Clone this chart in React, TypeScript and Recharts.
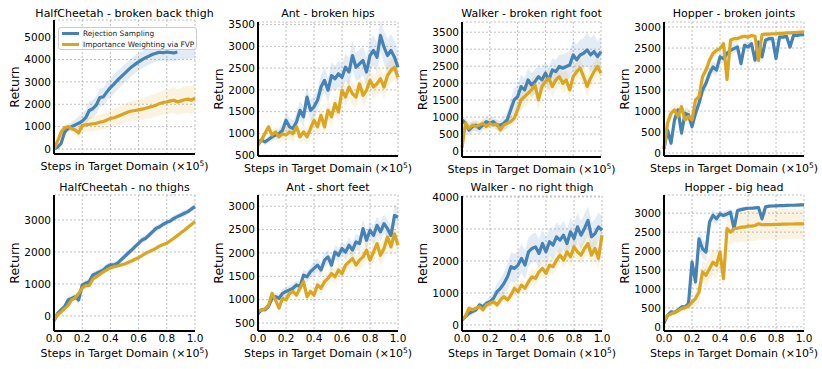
import React from 'react';
import { ComposedChart, Area, Line, XAxis, YAxis, CartesianGrid, Label } from 'recharts';

const BLUE = '#4682b4';
const GOLD = '#daa520';
const FONT = '"DejaVu Sans", Verdana, sans-serif';

// shared x grid (x 1e5 steps)
const steps = [
  0, 0.025, 0.05, 0.075, 0.1, 0.125, 0.15, 0.175, 0.2, 0.225, 0.25, 0.275, 0.3, 0.325,
  0.35, 0.375, 0.4, 0.425, 0.45, 0.475, 0.5, 0.525, 0.55, 0.575, 0.6, 0.625, 0.65,
  0.675, 0.7, 0.725, 0.75, 0.775, 0.8, 0.825, 0.85, 0.875, 0.9, 0.925, 0.95, 0.975, 1,
];
const xTicks = [0, 0.2, 0.4, 0.6, 0.8, 1];

// HalfCheetah - broken back thigh
const cheetahBackRs = [0, 80, 250, 750, 920, 1000, 1080, 1150, 1250, 1400, 1720, 1800, 1960, 2300, 2330, 2550, 2745, 2900, 3070, 3220, 3370, 3520, 3665, 3780, 3890, 3990, 4080, 4150, 4230, 4280, 4320, 4300, 4330, 4310, 4290, 4330, 4400, 4420, 4450, 4450, 4480];
const cheetahBackRsStd = [30, 50, 100, 150, 150, 200, 250, 300, 350, 350, 400, 400, 400, 400, 420, 420, 420, 420, 420, 420, 400, 400, 400, 400, 400, 380, 380, 380, 380, 380, 380, 380, 380, 380, 380, 380, 400, 400, 420, 420, 420];
const cheetahBackFvp = [0, 350, 750, 950, 1000, 920, 850, 720, 1050, 1080, 1100, 1130, 1150, 1200, 1230, 1300, 1370, 1400, 1450, 1520, 1590, 1650, 1700, 1720, 1750, 1780, 1820, 1870, 1910, 1960, 2030, 2080, 2100, 2150, 2180, 2100, 2150, 2200, 2230, 2180, 2280];
const cheetahBackFvpStd = [20, 100, 150, 150, 150, 150, 200, 250, 300, 300, 320, 320, 340, 340, 360, 360, 380, 400, 400, 420, 420, 440, 450, 460, 470, 480, 490, 500, 510, 520, 530, 540, 550, 560, 570, 580, 590, 600, 610, 620, 630];
const cheetahBackTicks = [0, 1000, 2000, 3000, 4000, 5000];

// Ant - broken hips
const antHipsRs = [805, 845, 805, 860, 920, 960, 995, 1070, 1300, 1150, 1110, 1265, 1530, 1380, 1835, 1530, 1610, 1760, 2065, 2220, 1990, 2330, 2255, 2370, 2290, 2520, 2410, 2790, 2520, 2600, 2675, 2410, 2790, 2905, 2750, 3250, 2980, 2790, 2905, 2750, 2520];
const antHipsRsStd = [50, 60, 70, 80, 100, 100, 120, 150, 200, 200, 200, 200, 220, 220, 250, 250, 250, 250, 280, 280, 280, 300, 300, 300, 300, 320, 320, 330, 330, 330, 340, 340, 350, 350, 350, 380, 380, 380, 380, 380, 380];
const antHipsFvp = [730, 845, 995, 1150, 960, 1035, 920, 995, 960, 1035, 995, 1150, 920, 1035, 920, 1110, 1300, 1150, 1415, 1150, 1530, 1380, 1685, 1490, 1990, 1835, 2065, 1910, 1835, 2140, 1875, 1990, 2220, 2065, 2140, 2255, 2065, 2330, 2445, 2520, 2290];
const antHipsFvpStd = [50, 80, 100, 120, 120, 120, 150, 150, 150, 150, 170, 170, 170, 180, 180, 200, 200, 200, 220, 220, 220, 230, 230, 230, 240, 240, 250, 250, 250, 250, 260, 260, 260, 270, 270, 270, 280, 280, 280, 280, 280];
const antHipsTicks = [500, 1000, 1500, 2000, 2500, 3000, 3500];

// Walker - broken right foot
const walkerFootRs = [915, 815, 620, 720, 765, 670, 765, 865, 815, 865, 765, 765, 815, 915, 1210, 1505, 1600, 1900, 1800, 2095, 1945, 2045, 2190, 2095, 2290, 2095, 2390, 2340, 2490, 2440, 2490, 2535, 2830, 2685, 2830, 2880, 2980, 2830, 2930, 2780, 2930];
const walkerFootRsStd = [100, 150, 200, 150, 150, 150, 150, 150, 150, 150, 150, 150, 200, 250, 300, 350, 350, 350, 350, 350, 350, 350, 350, 350, 350, 350, 350, 350, 350, 400, 400, 400, 450, 450, 450, 450, 500, 500, 500, 450, 450];
const walkerFootFvp = [100, 815, 670, 765, 720, 765, 815, 720, 815, 765, 795, 620, 765, 815, 865, 965, 1210, 1505, 1600, 1700, 1800, 1945, 1505, 1900, 2045, 2145, 1900, 2095, 2190, 1995, 2095, 1800, 2190, 2340, 2440, 2190, 1900, 2145, 2340, 2490, 2290];
const walkerFootFvpStd = [100, 150, 150, 150, 150, 150, 150, 150, 150, 150, 150, 150, 150, 150, 150, 200, 250, 300, 300, 300, 300, 300, 300, 300, 300, 300, 300, 300, 300, 300, 300, 300, 300, 300, 300, 300, 300, 300, 300, 300, 300];
const walkerFootTicks = [0, 500, 1000, 1500, 2000, 2500, 3000, 3500];

// Hopper - broken joints
const hopperJointsRs = [100, 550, 235, 790, 1025, 475, 945, 910, 630, 945, 1185, 1500, 1660, 1895, 2050, 1975, 2290, 2250, 2370, 2445, 2485, 2525, 2130, 2565, 2525, 2605, 2210, 2645, 2290, 2685, 2725, 2725, 2250, 2760, 2760, 2780, 2525, 2800, 2800, 2820, 2820];
const hopperJointsRsStd = [50, 150, 150, 150, 150, 150, 150, 150, 150, 150, 150, 150, 150, 150, 150, 150, 120, 120, 100, 100, 100, 100, 150, 100, 100, 100, 150, 80, 150, 80, 80, 80, 150, 60, 60, 60, 100, 50, 50, 50, 50];
const hopperJointsFvp = [100, 710, 945, 1025, 870, 1105, 790, 870, 790, 1265, 1340, 1815, 1975, 2210, 2370, 2445, 2485, 2605, 1750, 2685, 2725, 2725, 2760, 2780, 2760, 2800, 2780, 2200, 2820, 2830, 2830, 2840, 2840, 2850, 2850, 2860, 2860, 2870, 2870, 2880, 2880];
const hopperJointsFvpStd = [50, 150, 150, 150, 150, 150, 150, 150, 150, 150, 150, 150, 150, 120, 120, 100, 100, 80, 150, 80, 80, 80, 80, 70, 70, 70, 70, 100, 60, 60, 60, 60, 60, 60, 60, 60, 60, 60, 60, 60, 60];
const hopperJointsTicks = [0, 500, 1000, 1500, 2000, 2500, 3000];

// HalfCheetah - no thighs
const cheetahThighRs = [-150, 80, 190, 290, 500, 550, 600, 500, 970, 1020, 1070, 1280, 1330, 1385, 1440, 1540, 1595, 1595, 1645, 1750, 1855, 1960, 2060, 2165, 2270, 2375, 2430, 2530, 2635, 2740, 2790, 2865, 2925, 2970, 3050, 3105, 3155, 3210, 3260, 3345, 3415];
const cheetahThighRsStd = [50, 60, 70, 80, 80, 100, 100, 150, 100, 100, 100, 100, 100, 100, 100, 100, 100, 100, 100, 100, 100, 100, 100, 100, 100, 100, 100, 100, 100, 100, 100, 100, 100, 100, 100, 100, 100, 100, 100, 100, 100];
const cheetahThighFvp = [-150, 50, 120, 230, 330, 500, 560, 700, 870, 950, 950, 1150, 1220, 1300, 1380, 1440, 1500, 1540, 1560, 1590, 1625, 1670, 1720, 1770, 1820, 1890, 1960, 2010, 2060, 2120, 2190, 2230, 2270, 2350, 2430, 2510, 2600, 2680, 2770, 2860, 2950];
const cheetahThighFvpStd = [40, 50, 60, 60, 60, 60, 70, 70, 70, 70, 70, 70, 70, 70, 70, 70, 70, 70, 70, 70, 70, 70, 70, 70, 70, 70, 70, 70, 70, 70, 70, 70, 70, 70, 70, 70, 70, 70, 70, 70, 70];
const cheetahThighTicks = [0, 1000, 2000, 3000];

// Ant - short feet
const antFeetRs = [700, 785, 785, 855, 1030, 1065, 1030, 1135, 1175, 1210, 1245, 1315, 1280, 1525, 1490, 1600, 1670, 1740, 1635, 1845, 1915, 1740, 2020, 1950, 2095, 2020, 2165, 2060, 2235, 2200, 2520, 2270, 2485, 2375, 2590, 2450, 2625, 2520, 2375, 2800, 2765];
const antFeetRsStd = [50, 50, 60, 60, 80, 80, 80, 100, 100, 100, 100, 100, 100, 120, 120, 120, 150, 150, 150, 150, 150, 150, 150, 150, 150, 150, 170, 170, 170, 170, 200, 200, 200, 200, 200, 200, 200, 200, 200, 220, 220];
const antFeetFvp = [750, 780, 800, 880, 1135, 995, 820, 1030, 995, 1135, 1175, 1100, 1245, 1385, 1065, 1175, 1100, 1315, 1245, 1385, 1455, 1560, 1490, 1635, 1560, 1740, 1810, 1880, 1740, 1845, 1915, 2060, 1845, 2020, 2200, 1950, 2095, 2340, 2130, 2410, 2165];
const antFeetFvpStd = [50, 50, 60, 60, 80, 80, 80, 100, 100, 100, 100, 100, 100, 120, 120, 120, 150, 150, 150, 150, 150, 150, 150, 150, 150, 170, 170, 170, 170, 200, 200, 200, 200, 200, 220, 220, 220, 220, 220, 220, 220];
const antFeetTicks = [500, 1000, 1500, 2000, 2500, 3000];

// Walker - no right thigh
const walkerThighRs = [150, 260, 365, 415, 470, 625, 570, 675, 725, 830, 1040, 1145, 1300, 1505, 1820, 1765, 1870, 2080, 1870, 2285, 2390, 2440, 2235, 2545, 2285, 2600, 2495, 2755, 2650, 2805, 2545, 2910, 2700, 3065, 2805, 3015, 3270, 2755, 2855, 3065, 2960];
const walkerThighRsStd = [80, 80, 100, 100, 100, 100, 100, 120, 150, 200, 250, 300, 350, 400, 450, 450, 450, 450, 450, 450, 450, 450, 450, 450, 450, 450, 450, 450, 450, 450, 450, 450, 450, 450, 450, 450, 450, 450, 450, 450, 450];
const walkerThighFvp = [150, 280, 520, 470, 520, 570, 470, 625, 675, 725, 625, 780, 885, 780, 935, 1145, 1040, 1245, 1145, 1350, 1505, 1455, 1660, 1765, 1610, 1870, 1820, 2025, 2180, 2025, 2285, 2130, 2440, 2285, 2180, 2390, 2545, 2180, 2390, 2080, 2805];
const walkerThighFvpStd = [80, 80, 100, 100, 100, 100, 100, 100, 120, 120, 150, 150, 150, 150, 200, 200, 200, 200, 200, 200, 250, 250, 250, 250, 250, 250, 250, 250, 250, 250, 300, 300, 300, 300, 300, 300, 350, 350, 350, 350, 350];
const walkerThighTicks = [0, 1000, 2000, 3000, 4000];

// Hopper - big head
const hopperHeadRs = [100, 305, 395, 375, 440, 525, 525, 615, 1710, 1185, 2325, 2060, 1975, 2765, 2940, 2850, 2980, 2940, 2980, 3025, 2590, 3070, 3095, 3115, 3130, 3130, 3140, 3150, 2850, 3165, 3185, 3190, 3195, 3200, 3200, 3205, 3210, 3210, 3215, 3220, 3220];
const hopperHeadRsStd = [50, 50, 50, 50, 50, 50, 60, 80, 200, 200, 250, 250, 250, 150, 150, 150, 100, 100, 100, 100, 200, 80, 60, 60, 50, 50, 50, 50, 100, 50, 40, 40, 40, 40, 40, 40, 40, 40, 40, 40, 40];
const hopperHeadFvp = [150, 300, 340, 380, 420, 480, 500, 550, 650, 745, 920, 1450, 1360, 1535, 1710, 1620, 1975, 1270, 2590, 2500, 2590, 2605, 2630, 2630, 2660, 2660, 2675, 2720, 2695, 2700, 2700, 2700, 2705, 2705, 2710, 2710, 2715, 2715, 2720, 2720, 2720];
const hopperHeadFvpStd = [50, 50, 50, 50, 50, 60, 80, 100, 150, 200, 300, 300, 300, 300, 350, 350, 350, 350, 350, 350, 350, 380, 380, 400, 400, 400, 400, 400, 400, 400, 400, 400, 400, 400, 400, 400, 400, 400, 400, 400, 400];
const hopperHeadTicks = [0, 500, 1000, 1500, 2000, 2500, 3000];

const panels = [
  { title: 'HalfCheetah - broken back thigh', rs: cheetahBackRs, rsStd: cheetahBackRsStd, fvp: cheetahBackFvp, fvpStd: cheetahBackFvpStd, yTicks: cheetahBackTicks, yDomain: [-220, 5760], box: { l: 54, r: 195, t: 20, b: 154 }, rsEnd: 0.875, row: 0 },
  { title: 'Ant - broken hips', rs: antHipsRs, rsStd: antHipsRsStd, fvp: antHipsFvp, fvpStd: antHipsFvpStd, yTicks: antHipsTicks, yDomain: [480, 3560], box: { l: 258, r: 398, t: 22, b: 156 }, row: 0 },
  { title: 'Walker - broken right foot', rs: walkerFootRs, rsStd: walkerFootRsStd, fvp: walkerFootFvp, fvpStd: walkerFootFvpStd, yTicks: walkerFootTicks, yDomain: [-175, 3800], box: { l: 462, r: 601, t: 22, b: 157 }, row: 0 },
  { title: 'Hopper - broken joints', rs: hopperJointsRs, rsStd: hopperJointsRsStd, fvp: hopperJointsFvp, fvpStd: hopperJointsFvpStd, yTicks: hopperJointsTicks, yDomain: [-70, 3120], box: { l: 664, r: 804, t: 22, b: 156 }, row: 0 },
  { title: 'HalfCheetah - no thighs', rs: cheetahThighRs, rsStd: cheetahThighRsStd, fvp: cheetahThighFvp, fvpStd: cheetahThighFvpStd, yTicks: cheetahThighTicks, yDomain: [-470, 3780], box: { l: 54, r: 195, t: 195, b: 331 }, row: 1 },
  { title: 'Ant - short feet', rs: antFeetRs, rsStd: antFeetRsStd, fvp: antFeetFvp, fvpStd: antFeetFvpStd, yTicks: antFeetTicks, yDomain: [330, 3240], box: { l: 258, r: 398, t: 195, b: 331 }, row: 1 },
  { title: 'Walker - no right thigh', rs: walkerThighRs, rsStd: walkerThighRsStd, fvp: walkerThighFvp, fvpStd: walkerThighFvpStd, yTicks: walkerThighTicks, yDomain: [-190, 4030], box: { l: 462, r: 602, t: 196, b: 331 }, row: 1 },
  { title: 'Hopper - big head', rs: hopperHeadRs, rsStd: hopperHeadRsStd, fvp: hopperHeadFvp, fvpStd: hopperHeadFvpStd, yTicks: hopperHeadTicks, yDomain: [-110, 3480], box: { l: 664, r: 804, t: 195, b: 331 }, row: 1 },
];

const YW = 50;
const MT = 8;
const MR = 22;
const XH = 34;

function Panel({ p }: { p: any }) {
  const w = p.box.r - p.box.l;
  const h = p.box.b - p.box.t;
  const end = p.rsEnd ?? 1;
  const data = steps.map((x, i) => ({
    x,
    rs: x <= end ? p.rs[i] : null,
    rsBand: [p.rs[i] - p.rsStd[i], p.rs[i] + p.rsStd[i]],
    fvp: p.fvp[i],
    fvpBand: [p.fvp[i] - p.fvpStd[i], p.fvp[i] + p.fvpStd[i]],
  }));
  const bottom = p.row === 1;
  const titleTop = p.row === 0 ? 6.5 : 181;

  return (
    <>
      <div
        style={{
          position: 'absolute', left: (p.box.l + p.box.r) / 2 - 110, width: 220, top: titleTop,
          textAlign: 'center', fontFamily: FONT, fontSize: 11, lineHeight: '14px', color: '#000', whiteSpace: 'nowrap',
        }}
      >
        {p.title}
      </div>
      <div style={{ position: 'absolute', left: p.box.l - YW, top: p.box.t - MT }}>
        <ComposedChart
          width={YW + w + MR}
          height={MT + h + XH}
          data={data}
          margin={{ top: MT, right: MR, left: 0, bottom: 0 }}
        >
          <CartesianGrid stroke="#b0b0b0" strokeDasharray="2 2" strokeWidth={0.8} />
          <XAxis
            type="number"
            dataKey="x"
            domain={[0, 1]}
            ticks={xTicks}
            height={XH}
            axisLine={{ stroke: '#000', strokeWidth: 2 }}
            tickLine={false}
            tickSize={0}
            tickMargin={4}
            interval={0}
            tick={{ fill: '#000', fontSize: 10.5, fontFamily: FONT }}
            tickFormatter={(v: number) => (bottom ? v.toFixed(1) : '')}
          >
            <Label
              content={(props: any) => {
                const vb = props.viewBox || {};
                const cx = vb.x + vb.width / 2;
                const y = vb.y + (bottom ? 26 : 16);
                return (
                  <text x={cx} y={y} textAnchor="middle" fontFamily={FONT} fontSize={11} fill="#000">
                    Steps in Target Domain (×10
                    <tspan fontSize={7.5} dy={-4.5}>5</tspan>
                    <tspan dy={4.5}>)</tspan>
                  </text>
                );
              }}
            />
          </XAxis>
          <YAxis
            type="number"
            domain={p.yDomain}
            ticks={p.yTicks}
            width={YW}
            allowDataOverflow
            axisLine={{ stroke: '#000', strokeWidth: 2 }}
            tickLine={false}
            tickSize={0}
            tickMargin={3}
            interval={0}
            tick={{ fill: '#000', fontSize: 10.5, fontFamily: FONT }}
          >
            <Label
              content={(props: any) => {
                const vb = props.viewBox || {};
                const bx = vb.x + vb.width - 35;
                const cy = vb.y + vb.height / 2;
                return (
                  <text
                    x={bx}
                    y={cy}
                    textAnchor="middle"
                    transform={`rotate(-90, ${bx}, ${cy})`}
                    fontFamily={FONT}
                    fontSize={12.5}
                    fill="#000"
                  >
                    Return
                  </text>
                );
              }}
            />
          </YAxis>
          <Area type="linear" dataKey="rsBand" stroke="none" fill={BLUE} fillOpacity={0.15} isAnimationActive={false} />
          <Area type="linear" dataKey="fvpBand" stroke="none" fill={GOLD} fillOpacity={0.13} isAnimationActive={false} />
          <Line type="linear" dataKey="rs" stroke={BLUE} strokeWidth={3.2} dot={false} activeDot={false} strokeLinejoin="round" isAnimationActive={false} />
          <Line type="linear" dataKey="fvp" stroke={GOLD} strokeWidth={3.2} dot={false} activeDot={false} strokeLinejoin="round" isAnimationActive={false} />
        </ComposedChart>
      </div>
    </>
  );
}

function LegendBox() {
  const item = (color: string, text: string) => (
    <div style={{ display: 'flex', alignItems: 'center', height: 11 }}>
      <div style={{ width: 17, height: 2.5, background: color, marginLeft: 3, marginRight: 4 }} />
      <span style={{ fontSize: 7.4, fontFamily: FONT, color: '#222', whiteSpace: 'nowrap' }}>{text}</span>
    </div>
  );
  return (
    <div
      style={{
        position: 'absolute', left: 58, top: 26.5, width: 139, height: 23, boxSizing: 'border-box',
        border: '1px solid #cccccc', borderRadius: 3, background: 'rgba(255,255,255,0.85)',
        paddingTop: 0.5,
      }}
    >
      {item(BLUE, 'Rejection Sampling')}
      {item(GOLD, 'Importance Weighting via FVP')}
    </div>
  );
}

export default function App() {
  return (
    <div style={{ position: 'absolute', left: 0, top: 0, width: 822, height: 369, background: '#fff', overflow: 'hidden' }}>
      {panels.map((p) => (
        <Panel key={p.title} p={p} />
      ))}
      <LegendBox />
    </div>
  );
}
